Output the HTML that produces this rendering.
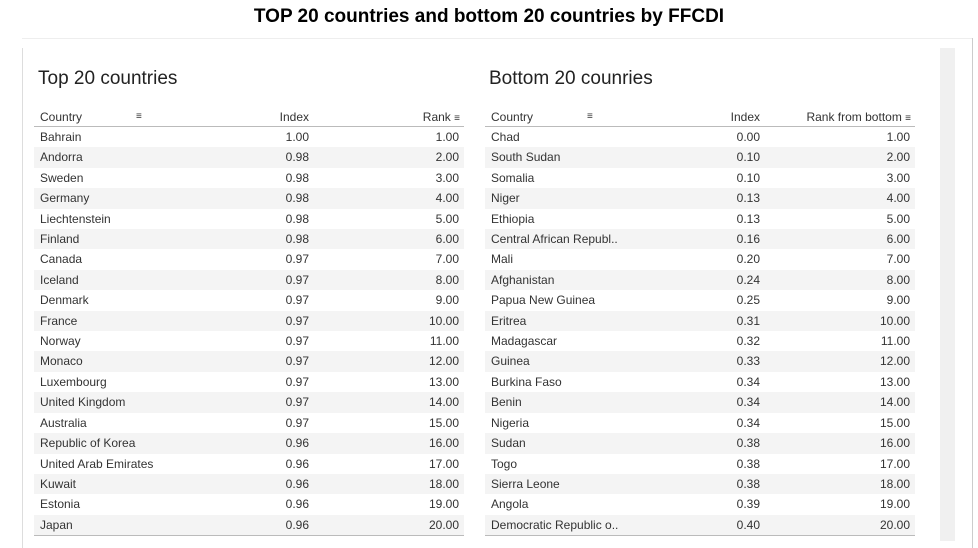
<!DOCTYPE html>
<html><head><meta charset="utf-8"><style>
body{margin:0;width:978px;height:548px;background:#fff;font-family:"Liberation Sans",sans-serif;position:relative;overflow:hidden;color:#333}
#title{position:absolute;top:6px;left:0;width:978px;text-align:center;font-weight:bold;font-size:19px;color:#000}
.frame{position:absolute;left:22px;top:48px;width:1px;height:500px;background:#ddd}
.frame2{position:absolute;left:972px;top:38px;width:1px;height:510px;background:#ccc}
.topline{position:absolute;left:22px;top:38px;width:951px;height:1px;background:#eee}
.scroll{position:absolute;left:940px;top:48px;width:15px;height:493px;background:#f0f0f0}
.h{position:absolute;top:68px;font-size:19px;color:#222}
.tbl{position:absolute;top:106px;width:430px;font-size:12px}
.hdr,.row{position:relative;height:20.42px;line-height:20.42px}
.hdr{border-bottom:1px solid #bbb;height:20px;line-height:22px}
.row.alt{background:#f4f4f4}
.c{position:absolute;left:6px}
.i{position:absolute;right:155px;text-align:right}
.r{position:absolute;right:5px;text-align:right}
.bot{border-top:1px solid #bbb;height:1px}
.ic{font-size:10px;letter-spacing:-1px}
</style></head><body>
<div id="title">TOP 20 countries and bottom 20 countries by FFCDI</div>
<div class="topline"></div>
<div class="frame"></div>
<div class="frame2"></div>
<div class="scroll"></div>
<div class="h" style="left:38px">Top 20 countries</div>
<div class="h" style="left:489px">Bottom 20 counries</div>
<div class="tbl" id="t1" style="left:34px"></div>
<div class="tbl" id="t2" style="left:485px"></div>
<script>
const topCountries=["Bahrain","Andorra","Sweden","Germany","Liechtenstein","Finland","Canada","Iceland","Denmark","France","Norway","Monaco","Luxembourg","United Kingdom","Australia","Republic of Korea","United Arab Emirates","Kuwait","Estonia","Japan"];
const topIndex=[1.00,0.98,0.98,0.98,0.98,0.98,0.97,0.97,0.97,0.97,0.97,0.97,0.97,0.97,0.97,0.96,0.96,0.96,0.96,0.96];
const topRank=[1,2,3,4,5,6,7,8,9,10,11,12,13,14,15,16,17,18,19,20];
const botCountries=["Chad","South Sudan","Somalia","Niger","Ethiopia","Central African Republ..","Mali","Afghanistan","Papua New Guinea","Eritrea","Madagascar","Guinea","Burkina Faso","Benin","Nigeria","Sudan","Togo","Sierra Leone","Angola","Democratic Republic o.."];
const botIndex=[0.00,0.10,0.10,0.13,0.13,0.16,0.20,0.24,0.25,0.31,0.32,0.33,0.34,0.34,0.34,0.38,0.38,0.38,0.39,0.40];
const botRank=[1,2,3,4,5,6,7,8,9,10,11,12,13,14,15,16,17,18,19,20];
function build(id,names,idx,rank,rankLabel,pre){
  const t=document.getElementById(id);
  const h=document.createElement('div');h.className='hdr';
  
  
  h.innerHTML='<span class="c">Country</span><span class="ic" style="position:absolute;left:102px">&#8801;</span><span class="i">Index</span><span class="r">'+rankLabel+' <span class="ic">&#8801;</span></span>';
  t.appendChild(h);
  names.forEach((n,k)=>{
    const r=document.createElement('div');r.className='row'+(k%2?' alt':'');
    
    
    r.innerHTML='<span class="c">'+n+'</span><span class="i">'+idx[k].toFixed(2)+'</span><span class="r">'+rank[k].toFixed(2)+'</span>';
    t.appendChild(r);
  });
  const b=document.createElement('div');b.className='bot';
  
  
  t.appendChild(b);
}
build('t1',topCountries,topIndex,topRank,'Rank','top');
build('t2',botCountries,botIndex,botRank,'Rank from bottom','bottom');
</script>
</body></html>
